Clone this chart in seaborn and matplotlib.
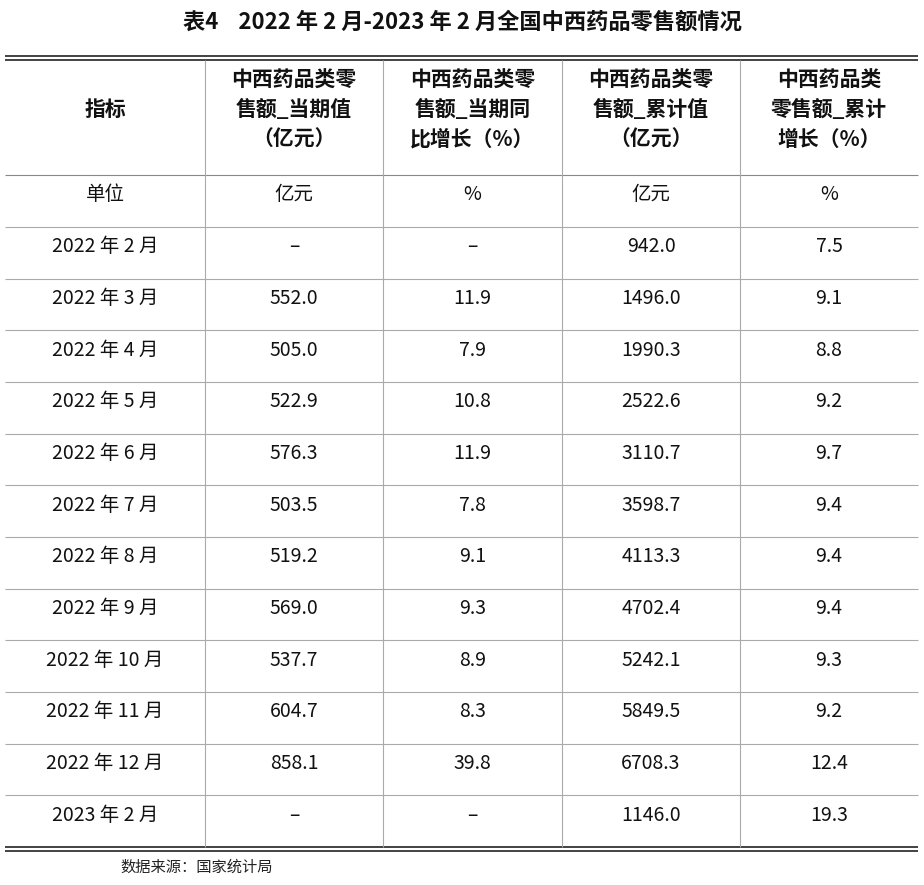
import matplotlib
matplotlib.use("Agg")
import matplotlib.pyplot as plt
import seaborn as sns

sns.set_theme(style="white")
plt.rcParams['font.family'] = ['Noto Sans CJK SC', 'DejaVu Sans']

title = "表4    2022 年 2 月-2023 年 2 月全国中西药品零售额情况"
headers = ["指标", "中西药品类零\n售额_当期值\n（亿元）", "中西药品类零\n售额_当期同\n比增长（%）",
           "中西药品类零\n售额_累计值\n（亿元）", "中西药品类\n零售额_累计\n增长（%）"]
units = ["单位", "亿元", "%", "亿元", "%"]
months = ["2022 年 2 月", "2022 年 3 月", "2022 年 4 月", "2022 年 5 月", "2022 年 6 月",
          "2022 年 7 月", "2022 年 8 月", "2022 年 9 月", "2022 年 10 月", "2022 年 11 月",
          "2022 年 12 月", "2023 年 2 月"]
current = ["–", "552.0", "505.0", "522.9", "576.3", "503.5", "519.2", "569.0", "537.7", "604.7", "858.1", "–"]
current_yoy = ["–", "11.9", "7.9", "10.8", "11.9", "7.8", "9.1", "9.3", "8.9", "8.3", "39.8", "–"]
cumulative = ["942.0", "1496.0", "1990.3", "2522.6", "3110.7", "3598.7", "4113.3", "4702.4",
              "5242.1", "5849.5", "6708.3", "1146.0"]
cum_growth = ["7.5", "9.1", "8.8", "9.2", "9.7", "9.4", "9.4", "9.4", "9.3", "9.2", "12.4", "19.3"]
source = "数据来源：国家统计局"

fig = plt.figure(figsize=(9.24, 8.85), dpi=100)
ax = fig.add_axes([0, 0, 1, 1])
ax.set_xlim(0, 924); ax.set_ylim(885, 0); ax.axis("off")

cols = [5, 205, 383, 562, 740, 918]
centers = [(cols[i] + cols[i+1]) / 2 for i in range(5)]
header_top, header_bot, unit_bot = 60, 175, 227
row_h = (847 - unit_bot) / len(months)

ax.text(462, 22, title, ha="center", va="center", fontsize=16, fontweight="bold", color="#111")
for y in (56, 60, 847, 851):
    ax.hlines(y, 5, 918, color="#222", lw=1.2)
ax.hlines(header_bot, 5, 918, color="#888", lw=0.8)
for i in range(len(months)):
    ax.hlines(unit_bot + i * row_h, 5, 918, color="#aaa", lw=0.8)
ax.vlines(cols[1:5], header_top, 847, color="#aaa", lw=0.8)

for c, h in zip(centers, headers):
    ax.text(c, (header_top + header_bot) / 2 - 8, h, ha="center", va="center", fontsize=15,
            fontweight="bold", linespacing=1.5, color="#111")
for c, u in zip(centers, units):
    ax.text(c, (header_bot + unit_bot) / 2 - 6, u, ha="center", va="center", fontsize=14, color="#111")

for i, row in enumerate(zip(months, current, current_yoy, cumulative, cum_growth)):
    y = unit_bot + (i + 0.5) * row_h - 6
    for c, v in zip(centers, row):
        ax.text(c, y, v, ha="center", va="center", fontsize=14, color="#111")

ax.text(120, 867, source, ha="left", va="center", fontsize=11, color="#222")
fig.savefig("out.png", dpi=100)
